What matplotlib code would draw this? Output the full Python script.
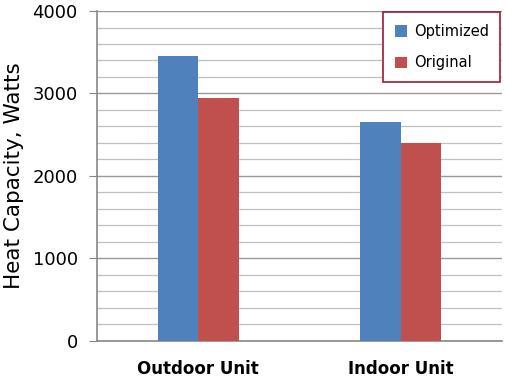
import matplotlib.pyplot as plt
import numpy as np

# data
units = ["Outdoor Unit", "Indoor Unit"]
optimized = [3460, 2655]
original = [2945, 2400]

fig = plt.figure(figsize=(5.06, 3.80), dpi=100)
ax = fig.add_axes([0.192, 0.103, 0.800, 0.868])

x = np.arange(len(units))
w = 0.2
ax.bar(x - w / 2, optimized, w, color="#4F81BD", label="Optimized", zorder=3)
ax.bar(x + w / 2, original, w, color="#C0504D", label="Original", zorder=3)

ax.set_xlim(-0.5, 1.5)
ax.set_ylim(0, 4000)
ax.set_yticks(range(0, 4001, 1000))
ax.set_yticks(range(0, 4001, 200), minor=True)
ax.grid(axis="y", which="minor", color="#c0c0c0", linewidth=0.9, zorder=0)
ax.grid(axis="y", which="major", color="#999999", linewidth=1.0, zorder=1)
ax.tick_params(axis="y", which="minor", length=0)
ax.tick_params(axis="y", which="major", length=6, color="#888888", labelsize=13, pad=8)
ax.tick_params(axis="x", length=0, pad=14)

ax.set_xticks(x)
ax.set_xticklabels(units, fontsize=12, fontweight="bold")
ax.set_ylabel("Heat Capacity, Watts", fontsize=15.5, labelpad=6)

for s in ["top", "right"]:
    ax.spines[s].set_visible(False)
for s in ["left", "bottom"]:
    ax.spines[s].set_color("#888888")
    ax.spines[s].set_linewidth(1.2)

leg = ax.legend(loc="upper right", bbox_to_anchor=(1.0, 1.0), fontsize=10.5,
                fancybox=False, framealpha=1, handlelength=0.8, handleheight=0.8,
                labelspacing=1.1, borderpad=0.8, handletextpad=0.5,
                borderaxespad=0.1)
leg.get_frame().set_edgecolor("#9b1b30")
leg.get_frame().set_linewidth(1.2)

fig.savefig("out.png", dpi=100)
